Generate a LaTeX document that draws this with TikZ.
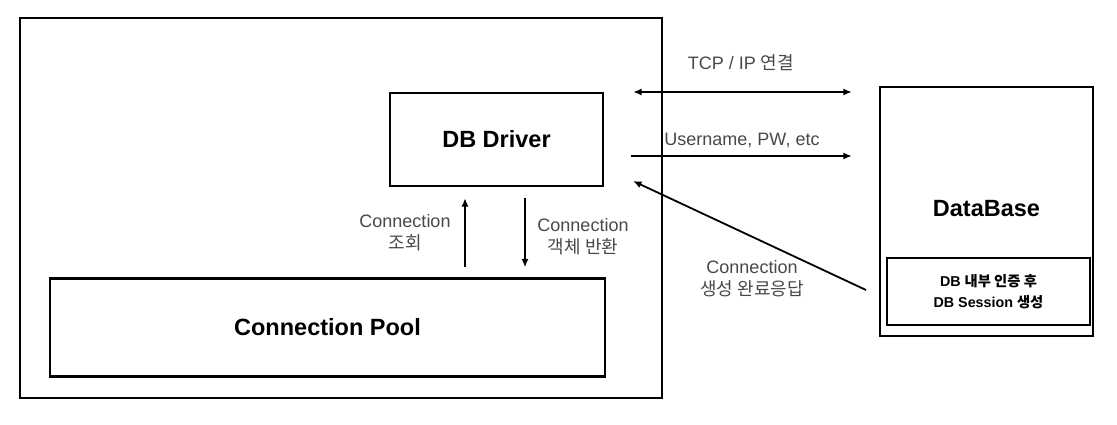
\documentclass[tikz,border=0pt]{standalone}
\usepackage{fontspec}
\setmainfont{Liberation Sans}
\newfontfamily\kr{Noto Sans CJK KR}
\usetikzlibrary{positioning,arrows.meta}
\definecolor{labelgray}{HTML}{484848}

\begin{document}
\begin{tikzpicture}[%
	x=1pt, y=-1pt,
	every text node part/.style={align=center},
	>={Latex[length=8.5pt,width=7pt]},
	frame/.style={%
		rectangle,
		line width=2.6pt,
		inner sep=0pt,
		draw
	},
	comp/.style={%
		rectangle,
		line width=2.2pt,
		inner sep=0pt,
		font=\fontsize{23.5}{26}\selectfont\bfseries,
		draw
	},
	inner/.style={%
		rectangle,
		line width=2.2pt,
		inner sep=0pt,
		font=\fontsize{14.3}{21}\selectfont\bfseries,
		draw
	},
	lbl/.style={%
		inner sep=0pt,
		text=labelgray,
		font=\fontsize{18}{22}\selectfont
	},
	link/.style={%
		line width=1.8pt
	}
	]

	\useasboundingbox (0,0) rectangle (1117,425);

	\node[frame, minimum width=642pt, minimum height=380pt] (app) at (341,208) {};
	\node[comp, minimum width=213pt, minimum height=93pt] (driver) at (496.5,139.5) {DB Driver};
	\node[comp, minimum width=555pt, minimum height=98pt] (pool) at (327.5,327.5) {Connection Pool};
	\node[comp, minimum width=213pt, minimum height=249pt] (db) at (986.5,211.5) {};
	\node[font=\fontsize{23.5}{26}\selectfont\bfseries, inner sep=0pt] (dbname) at (986.5,209) {DataBase};
	\node[inner, minimum width=203pt, minimum height=67pt] (session) at (988.5,291.5) {DB {\kr 내부 인증 후}\\DB Session {\kr 생성}};

	% driver <-> database
	\node[lbl] (tcplbl) at (741,63) {TCP / IP {\kr 연결}};
	\node[lbl] (userlbl) at (742,140) {Username, PW, etc};
	\draw[link, <->, shorten <=29pt, shorten >=27pt] (driver.east |- 0,92) -- (db.west |- 0,92);
	\draw[link, ->, shorten <=27pt, shorten >=27pt] (driver.east |- 0,156) -- (db.west |- 0,156);
	\coordinate (ack) at (866,290);
	\coordinate (ackend) at (633,181);
	\draw[link, ->] (ack) -- (ackend);
	\node[lbl] (acklbl) at (752,279) {Connection\\{\kr 생성 완료응답}};

	% driver <-> pool
	\draw[link, ->, shorten <=10pt, shorten >=11pt] (pool.north -| 465,0) -- (driver.south -| 465,0);
	\draw[link, ->, shorten <=11pt, shorten >=10pt] (driver.south -| 525,0) -- (pool.north -| 525,0);
	\node[lbl] (getlbl) at (405,233) {Connection\\{\kr 조회}};
	\node[lbl] (retlbl) at (583,237) {Connection\\{\kr 객체 반환}};
\end{tikzpicture}
\end{document}
